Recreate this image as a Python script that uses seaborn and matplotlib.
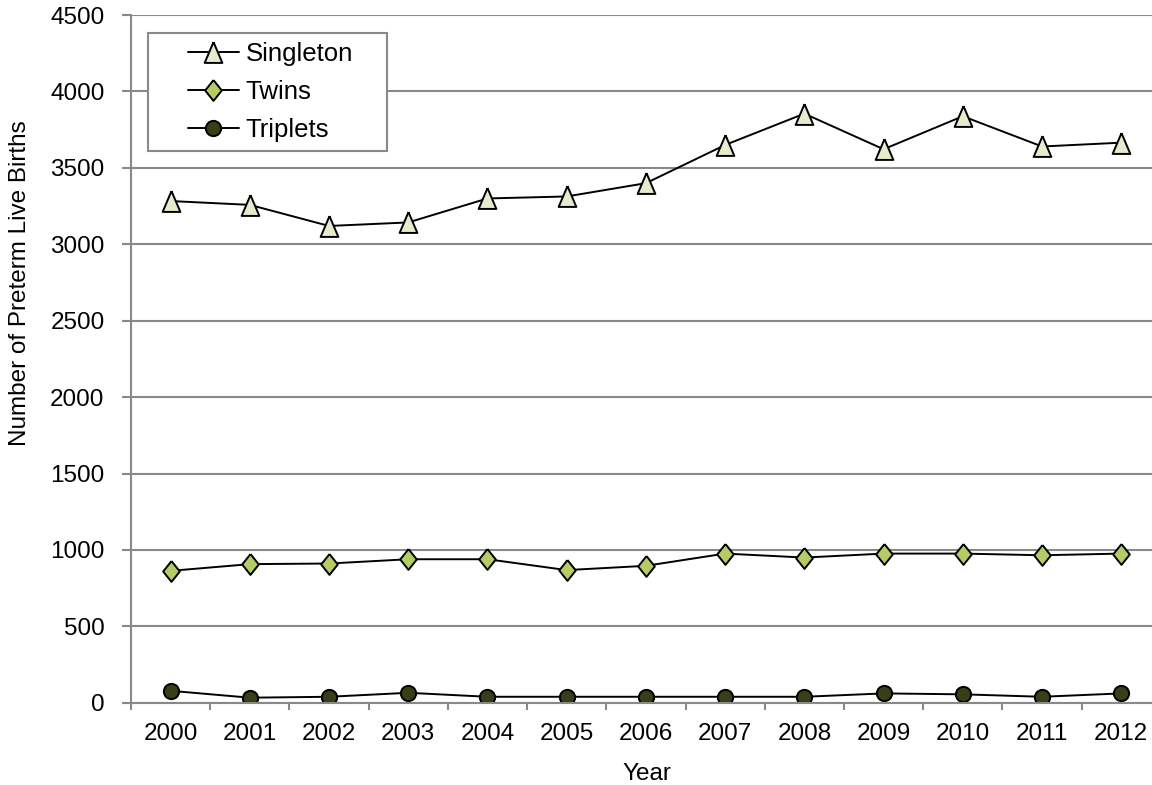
import matplotlib
matplotlib.use('Agg')
import matplotlib.pyplot as plt
from matplotlib.lines import Line2D
from matplotlib.legend_handler import HandlerLine2D
import seaborn as sns
import numpy as np


years = [2000, 2001, 2002, 2003, 2004, 2005, 2006, 2007, 2008, 2009, 2010, 2011, 2012]
singleton = [3283, 3258, 3120, 3143, 3300, 3313, 3400, 3650, 3855, 3622, 3838, 3640, 3665]
twins = [863, 907, 911, 939, 939, 868, 896, 976, 950, 976, 976, 965, 976]
triplets = [78, 33, 39, 65, 39, 39, 39, 39, 39, 61, 55, 39, 61]
y_ticks = list(range(0, 4501, 500))

grid_color = '#898989'

# taller-than-wide shapes like the Excel markers (closed polygons)
tri_marker = [(0, 1), (-0.85, -1), (0.85, -1), (0, 1)]
dia_marker = [(0, 1), (0.8, 0), (0, -1), (-0.8, 0), (0, 1)]


if __name__ == "__main__":

    sns.set_style('white')
    plt.rcParams['font.family'] = ['Liberation Sans', 'DejaVu Sans']
    plt.rcParams['text.color'] = 'black'
    plt.rcParams['axes.labelcolor'] = 'black'

    fig = plt.figure(figsize=(11.52, 7.85), dpi=100)
    ax = fig.add_axes([0.1137, 0.1048, 0.894, 0.876])

    # one call per series: black line, coloured marker fill
    sns.lineplot(x=years, y=singleton, ax=ax, color='black', linewidth=1.4,
                 marker=tri_marker, markersize=15, markerfacecolor='#E5EBCC',
                 markeredgecolor='black', markeredgewidth=1.4, label='Singleton')
    sns.lineplot(x=years, y=twins, ax=ax, color='black', linewidth=1.4,
                 marker=dia_marker, markersize=15, markerfacecolor='#B4CB66',
                 markeredgecolor='black', markeredgewidth=1.4, label='Twins')
    sns.lineplot(x=years, y=triplets, ax=ax, color='black', linewidth=1.4,
                 marker='o', markersize=11, markerfacecolor='#363F18',
                 markeredgecolor='black', markeredgewidth=1.4, label='Triplets')

    ax.set_xlim(years[0] - 0.5, years[-1] + 0.5)
    ax.set_ylim(0, 4500)
    ax.set_xticks(years)
    ax.set_xticklabels([str(y) for y in years])
    ax.set_xticks(np.arange(years[0] - 0.5, years[-1] + 1, 1), minor=True)
    ax.set_yticks(y_ticks)

    ax.tick_params(axis='x', which='major', length=0, labelsize=17.5, pad=14.5,
                   labelcolor='black')
    ax.tick_params(axis='x', which='minor', length=5, width=1.5,
                   color=grid_color, direction='out', bottom=True)
    ax.tick_params(axis='y', length=6.5, width=1.5, color=grid_color,
                   direction='out', left=True, labelsize=17.5, pad=12.5,
                   labelcolor='black')

    ax.yaxis.grid(True, color=grid_color, linewidth=1.5)
    ax.set_axisbelow(True)

    for side in ['top', 'right']:
        ax.spines[side].set_visible(False)
    for side in ['left', 'bottom']:
        ax.spines[side].set_color(grid_color)
        ax.spines[side].set_linewidth(1.5)

    ax.set_xlabel('Year', fontsize=17.5)
    ax.xaxis.set_label_coords(0.501, -0.0877)
    ax.set_ylabel('Number of Preterm Live Births', fontsize=17.5)
    ax.yaxis.set_label_coords(-0.097, 0.61)

    leg = ax.legend(loc='upper left', bbox_to_anchor=(0.0165, 0.774, 0.232, 0.2),
                    mode='expand', fontsize=18.5, frameon=True, fancybox=False,
                    edgecolor=grid_color, handlelength=3.19, handletextpad=0.27,
                    borderpad=0.35, labelspacing=0.55, borderaxespad=0,
                    handler_map={Line2D: HandlerLine2D(xpad=1.2)})
    leg.get_frame().set_linewidth(1.5)
    leg.get_frame().set_alpha(1)

    fig.savefig('out.png', dpi=100)
